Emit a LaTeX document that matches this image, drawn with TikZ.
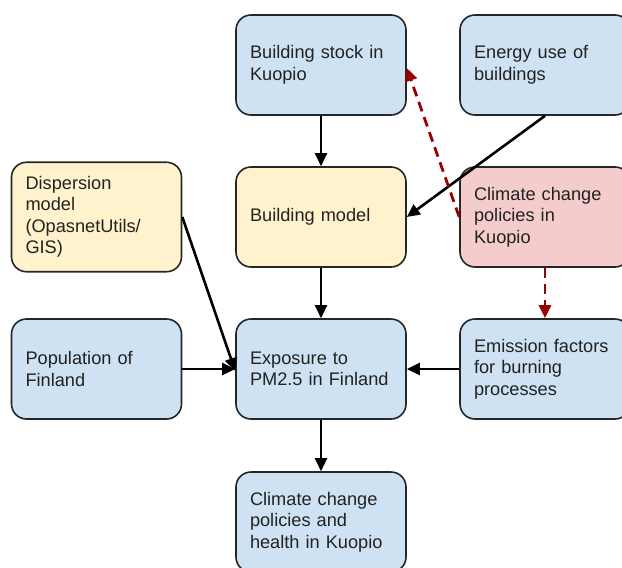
\documentclass[tikz,border=0pt]{standalone}
\usepackage{fontspec}
\setmainfont{Liberation Sans}
\usetikzlibrary{arrows.meta}
\definecolor{bblue}{HTML}{CFE2F3}
\definecolor{byellow}{HTML}{FFF2CC}
\definecolor{bred}{HTML}{F4CCCC}
\definecolor{darr}{HTML}{990000}
\definecolor{txt}{HTML}{222222}
\tikzset{
  box/.style={draw=black!85, line width=1.6pt, rounded corners=15pt,
    minimum width=170pt, minimum height=100pt, text width=142pt, inner sep=14pt,
    align=left, font=\fontsize{18.2}{21.5}\selectfont, text=txt},
  blue/.style={box, fill=bblue},
  yellow/.style={box, fill=byellow},
  redbox/.style={box, fill=bred},
  arr/.style={line width=2.6pt, -{Triangle[length=13pt,width=12pt]}},
  darrow/.style={line width=2.8pt, darr, dash pattern=on 10pt off 6pt,
    -{Triangle[length=13pt,width=12pt]}}
}
\begin{document}
\begin{tikzpicture}[x=1pt,y=-1pt]
\useasboundingbox (0,0) rectangle (622,568);
\node[blue] (bstock) at (321,65) {Building stock in\\Kuopio};
\node[blue] (energy) at (545,65) {Energy use of\\buildings};
\node[yellow] (disp) at (96.5,217) {Dispersion\\model\\(OpasnetUtils/\\GIS)};
\node[yellow] (bmodel) at (321,217) {Building model};
\node[redbox] (policy) at (545,217) {Climate change\\policies in\\Kuopio};
\node[blue] (pop) at (96.5,369) {Population of\\Finland};
\node[blue] (expo) at (321,369) {Exposure to\\PM2.5 in Finland};
\node[blue] (emis) at (545,369) {Emission factors\\for burning\\processes};
\node[blue] (health) at (321,522) {Climate change\\policies and\\health in Kuopio};

\draw[arr] (bstock.south) -- (bmodel.north);
\draw[arr] (energy.south) -- (bmodel.east);
\draw[darrow] (policy.west) -- ([yshift=-3pt]bstock.east);
\draw[darrow] (policy.south) -- (emis.north);
\draw[arr] (bmodel.south) -- (expo.north);
\draw[arr] (disp.east) -- ([yshift=-2pt]expo.west);
\draw[arr] (pop.east) -- (expo.west);
\draw[arr] (emis.west) -- (expo.east);
\draw[arr] (expo.south) -- (health.north);
\end{tikzpicture}
\end{document}
